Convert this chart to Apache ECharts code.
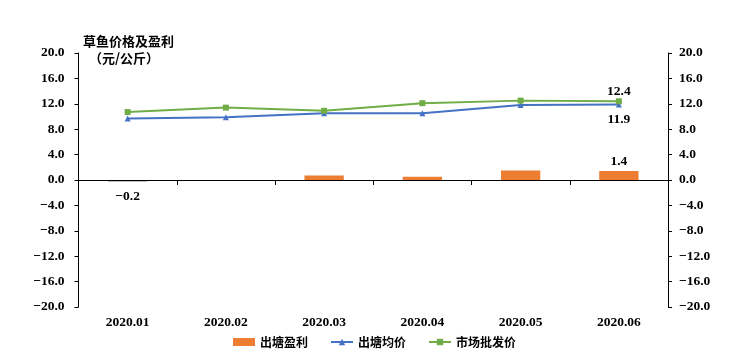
<!DOCTYPE html>
<html><head><meta charset="utf-8">
<script src="https://cdn.jsdelivr.net/npm/echarts@6/dist/echarts.min.js"></script>
<style>html,body{margin:0;padding:0;background:#fff}#c{width:749px;height:358px}</style>
</head><body><div id="c"></div>
<script>
const categories = ['2020.01','2020.02','2020.03','2020.04','2020.05','2020.06'];
const profit = [-0.2, 0, 0.7, 0.5, 1.5, 1.4];
const avgPrice = [9.7, 9.9, 10.5, 10.5, 11.8, 11.9];
const wholesale = [10.7, 11.4, 10.9, 12.1, 12.5, 12.4];
const yTicks = {min: -20, max: 20, interval: 4};
const seriesNames = ['出塘盈利', '出塘均价', '市场批发价'];
const colors = {profit: '#ED7D31', negative: '#000000', avg: '#4472C4', wholesale: '#70AD47'};

const numFont = 'Liberation Serif';
const cjkFont = 'Noto Sans CJK SC';
const chart = echarts.init(document.getElementById('c'));
const lastIdx = categories.length - 1;
const fmt = v => v.toFixed(1).replace('-', '\u2212');

const yAxisBase = {
  type: 'value', min: yTicks.min, max: yTicks.max, interval: yTicks.interval,
  axisLine: {show: true, lineStyle: {color: '#000', width: 1}},
  axisTick: {show: true, length: 4, lineStyle: {color: '#000'}},
  splitLine: {show: false}
};
const yLabel = {formatter: fmt, color: '#000', fontFamily: numFont, fontWeight: 'bold', fontSize: 13.5};

chart.setOption({
  animation: false,
  grid: {left: 78.5, right: 81, top: 53, bottom: 51, containLabel: false},
  title: [
    {text: '草鱼价格及盈利', left: 78, top: 30, textStyle: {fontFamily: cjkFont, fontSize: 13, fontWeight: 'bold', color: '#000'}},
    {text: '（元/公斤）', left: 84, top: 47, textStyle: {fontFamily: cjkFont, fontSize: 13, fontWeight: 'bold', color: '#000'}}
  ],
  legend: {
    bottom: 5, left: 'center', itemGap: 22, itemWidth: 22, itemHeight: 8,
    textStyle: {fontFamily: cjkFont, fontSize: 12, fontWeight: 'bold', color: '#000'},
    data: [
      {name: seriesNames[0], icon: 'rect', itemStyle: {color: colors.profit}},
      {name: seriesNames[1]},
      {name: seriesNames[2]}
    ]
  },
  xAxis: [
    {type: 'category', data: categories, boundaryGap: true,
     axisLine: {onZero: true, lineStyle: {color: '#000', width: 1}},
     axisTick: {show: true, length: 5, lineStyle: {color: '#000'}},
     axisLabel: {show: false}},
    {type: 'category', data: categories, boundaryGap: true, position: 'bottom',
     axisLine: {show: false, onZero: false}, axisTick: {show: false},
     axisLabel: {color: '#000', fontFamily: numFont, fontWeight: 'bold', fontSize: 13.5, margin: 9}}
  ],
  yAxis: [
    Object.assign({}, yAxisBase, {position: 'left', axisLabel: Object.assign({margin: 14}, yLabel)}),
    Object.assign({}, yAxisBase, {position: 'right', axisLabel: Object.assign({margin: 11}, yLabel)})
  ],
  series: [
    {name: seriesNames[0], type: 'bar', barWidth: '40%', xAxisIndex: 0, yAxisIndex: 0,
     data: profit.map((v, i) => ({
       value: v,
       itemStyle: {color: v < 0 ? colors.negative : colors.profit},
       label: (i === 0 || i === lastIdx) ? {show: true, position: v < 0 ? 'bottom' : 'top', distance: v < 0 ? 8 : 3,
         formatter: p => fmt(p.value), color: '#000', fontFamily: numFont, fontWeight: 'bold', fontSize: 13.5} : {show: false}
     }))},
    {name: seriesNames[1], type: 'line', xAxisIndex: 0, yAxisIndex: 0,
     symbol: 'triangle', symbolSize: 6, showAllSymbol: true,
     itemStyle: {color: colors.avg}, lineStyle: {color: colors.avg, width: 2},
     data: avgPrice.map((v, i) => ({value: v,
       label: i === lastIdx ? {show: true, position: 'bottom', distance: 5, formatter: p => fmt(p.value),
         color: '#000', fontFamily: numFont, fontWeight: 'bold', fontSize: 13.5} : {show: false}}))},
    {name: seriesNames[2], type: 'line', xAxisIndex: 0, yAxisIndex: 0,
     symbol: 'rect', symbolSize: 6, showAllSymbol: true,
     itemStyle: {color: colors.wholesale}, lineStyle: {color: colors.wholesale, width: 2},
     data: wholesale.map((v, i) => ({value: v,
       label: i === lastIdx ? {show: true, position: 'top', distance: 0, formatter: p => fmt(p.value),
         color: '#000', fontFamily: numFont, fontWeight: 'bold', fontSize: 13.5} : {show: false}}))}
  ]
});
</script></body></html>
